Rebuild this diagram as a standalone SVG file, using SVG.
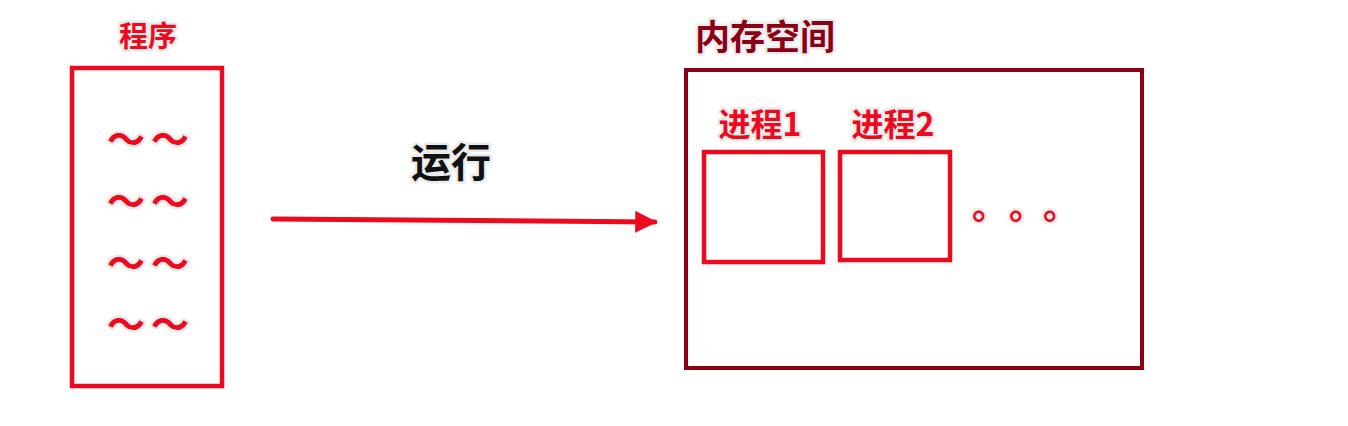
<svg xmlns="http://www.w3.org/2000/svg" width="1348" height="426" viewBox="0 0 1348 426">
<defs>
<marker id="ah" viewBox="0 0 10 10" refX="9" refY="5" markerWidth="5.4" markerHeight="4.4" markerUnits="strokeWidth" orient="auto">
<path d="M0,0 L10,5 L0,10 z" fill="#ee0a1e"/>
</marker>
<style>
text{font-family:"Noto Sans CJK SC","Noto Sans",sans-serif;font-weight:bold;paint-order:stroke;stroke:#ebebeb;stroke-width:5px;stroke-linejoin:round}
.red{fill:#ee0a1e}
.dark{fill:#8c0016}
.blk{fill:#111}
.tl{font-size:38px;letter-spacing:6px}
.box{fill:none;stroke:#ee0a1e;stroke-width:4.5}
</style>
</defs>
<rect width="1348" height="426" fill="#fff"/>
<g id="program">
<text class="red" x="148" y="47" font-size="29" text-anchor="middle">程序</text>
<rect class="box" x="72" y="68" width="150" height="318"/>
<text class="red tl" x="107" y="153">～～</text>
<text class="red tl" x="107" y="215">～～</text>
<text class="red tl" x="107" y="277">～～</text>
<text class="red tl" x="107" y="338">～～</text>
</g>
<g id="memory">
<text class="dark" x="695" y="50" font-size="35">内存空间</text>
<rect x="686" y="70" width="456" height="298" fill="none" stroke="#8c0016" stroke-width="4"/>
</g>
<g id="process1">
<text class="red" x="760" y="136" font-size="32" text-anchor="middle">进程1</text>
<rect class="box" x="704" y="152" width="119" height="110"/>
</g>
<g id="process2">
<text class="red" x="893" y="136" font-size="32" text-anchor="middle">进程2</text>
<rect class="box" x="840" y="152" width="110" height="108"/>
</g>
<g id="ellipsis">
<text class="red" x="972" y="219" font-size="35">。</text>
<text class="red" x="1009" y="219" font-size="35">。</text>
<text class="red" x="1043" y="219" font-size="35">。</text>
</g>
<g id="connectors">
<line x1="273" y1="219" x2="655" y2="222" stroke="#ee0a1e" stroke-width="5" stroke-linecap="round" marker-end="url(#ah)"/>
<text class="blk" x="451" y="177" font-size="40" text-anchor="middle">运行</text>
</g>
</svg>
